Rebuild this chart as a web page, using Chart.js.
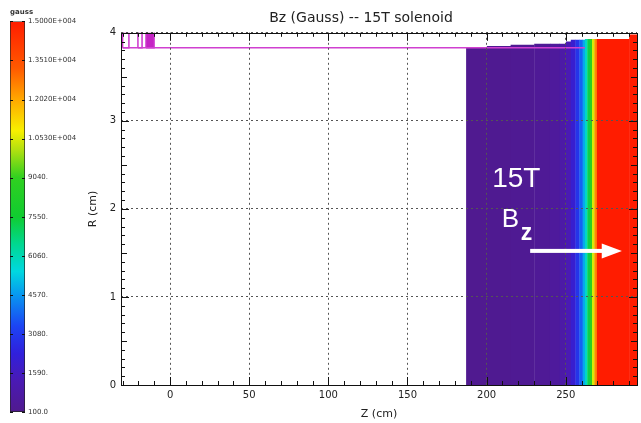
<!DOCTYPE html>
<html>
<head>
<meta charset="utf-8">
<script src="https://cdn.jsdelivr.net/npm/chart.js@4.4.0/dist/chart.umd.min.js"></script>
<style>
  html, body { margin: 0; padding: 0; background: #fff; }
  #wrap { position: relative; width: 641px; height: 423px; }
  #fieldChart, #colorBar { position: absolute; left: 0; top: 0; }
</style>
</head>
<body>
<div id="wrap">
  <canvas id="fieldChart" width="641" height="423"></canvas>
  <canvas id="colorBar" width="100" height="423"></canvas>
</div>
<script>
// Bz map columns: edges along Z (cm), field per column (gauss), top of each column in R (cm)
const zEdges = [187, 200, 215, 230, 240, 246, 250, 253, 256, 258.5, 260.5, 262, 263.5, 265, 266.5, 268, 269.5, 290, 295];
const bzValues = [150, 200, 260, 350, 550, 850, 1300, 2000, 2900, 3800, 4800, 5800, 7200, 8800, 10500, 12500, 15000, 15000];
const rTop = [3.83, 3.85, 3.865, 3.875, 3.875, 3.875, 3.9, 3.92, 3.92, 3.92, 3.92, 3.93, 3.93, 3.93, 3.93, 3.93, 3.93, 3.98];

// coil outlines near the upstream end
const coilZ = [[-30, -26], [-20.3, -17.7], [-15.2, -10.1]];
const coilFilled = [false, false, true];
const coilR = [3.83, 4.0];
const boreZ = [-30, 262];

// axis ticks
const zTicks = [0, 50, 100, 150, 200, 250];
const rTicks = [0, 1, 2, 3, 4];

// colour bar
const barTicks = [100, 1590, 3080, 4570, 6060, 7550, 9040, 10530, 12020, 13510, 15000];
const barLabels = ['100.0', '1590.', '3080.', '4570.', '6060.', '7550.', '9040.',
  '1.0530E+004', '1.2020E+004', '1.3510E+004', '1.5000E+004'];

// rainbow table, 0 = bottom of the bar, 1 = top
const cmap = [
  [0.00, '#501a8e'], [0.08, '#4a1ab4'], [0.15, '#3020dc'], [0.22, '#1c44f4'],
  [0.30, '#0898f0'], [0.36, '#00d8e0'], [0.43, '#00d890'], [0.50, '#10cc30'],
  [0.60, '#30d020'], [0.67, '#b0e010'], [0.72, '#f8f000'], [0.80, '#ffa800'],
  [0.88, '#ff5a00'], [1.00, '#ff1c00']
];

function hexRgb(h) {
  const n = parseInt(h.slice(1), 16);
  return [(n >> 16) & 255, (n >> 8) & 255, n & 255];
}

function bzColor(bz) {
  const lo = barTicks[0], hi = barTicks[barTicks.length - 1];
  const t = Math.max(0, Math.min(1, (bz - lo) / (hi - lo)));
  for (let i = 1; i < cmap.length; i++) {
    if (t <= cmap[i][0]) {
      const f = (t - cmap[i - 1][0]) / (cmap[i][0] - cmap[i - 1][0]);
      const a = hexRgb(cmap[i - 1][1]), b = hexRgb(cmap[i][1]);
      const c = a.map((v, k) => Math.round(v + (b[k] - v) * f));
      return 'rgb(' + c.join(',') + ')';
    }
  }
  return cmap[cmap.length - 1][1];
}

const FONT = '"DejaVu Sans", "Liberation Sans", sans-serif';

// field columns, later (downstream) columns drawn over the previous ones
const fieldSets = bzValues.map((bz, i) => ({
  data: [{x: zEdges[i], y: rTop[i]}, {x: Math.min(zEdges[i + 1] + 0.4, 295), y: rTop[i]}],
  fill: 'origin',
  backgroundColor: bzColor(bz),
  borderColor: 'transparent',
  borderWidth: 0,
  pointRadius: 0,
  order: -i
}));

const coilSets = coilZ.map((zz, i) => ({
  data: [{x: zz[0], y: coilR[0]}, {x: zz[0], y: coilR[1]}, {x: zz[1], y: coilR[1]},
         {x: zz[1], y: coilR[0]}, {x: zz[0], y: coilR[0]}],
  borderColor: '#cc33cc',
  borderWidth: 1.5,
  fill: false,
  pointRadius: 0,
  order: -100
}));

const coilFills = coilZ.filter((zz, i) => coilFilled[i]).map(zz => ({
  data: [{x: zz[0], y: coilR[1]}, {x: zz[1], y: coilR[1]}],
  fill: {value: coilR[0]},
  backgroundColor: '#c424c4',
  borderColor: 'transparent',
  borderWidth: 0,
  pointRadius: 0,
  order: -100
}));

const boreSet = {
  data: [{x: boreZ[0], y: coilR[0]}, {x: boreZ[1], y: coilR[0]}],
  borderColor: '#d040d0',
  borderWidth: 1.5,
  fill: false,
  pointRadius: 0,
  order: -101
};

// inward IDL-style ticks, the frame and the white labels
const framePlugin = {
  id: 'frame',
  afterDraw(chart) {
    const {ctx, chartArea: a, scales: {x, y}} = chart;
    ctx.save();

    // 15T / Bz label and arrow
    ctx.fillStyle = '#fff';
    ctx.textBaseline = 'alphabetic';
    ctx.textAlign = 'left';
    ctx.font = '28px "Liberation Sans", Arial, sans-serif';
    ctx.fillText('15T', x.getPixelForValue(203.5), y.getPixelForValue(2.25));
    ctx.font = '26px "Liberation Sans", Arial, sans-serif';
    ctx.fillText('B', x.getPixelForValue(209.5), y.getPixelForValue(1.795));
    ctx.font = 'bold 23px "Liberation Sans", Arial, sans-serif';
    ctx.fillText('z', x.getPixelForValue(221.5), y.getPixelForValue(1.65));

    const ay = y.getPixelForValue(1.523);
    const ax0 = x.getPixelForValue(227.5), ax1 = x.getPixelForValue(274), tip = x.getPixelForValue(285.5);
    ctx.fillRect(ax0, ay - 2, ax1 - ax0, 4);
    ctx.beginPath();
    ctx.moveTo(ax1 - 2, ay - 7.5);
    ctx.lineTo(tip, ay);
    ctx.lineTo(ax1 - 2, ay + 7.5);
    ctx.closePath();
    ctx.fill();

    ctx.strokeStyle = '#111';
    ctx.lineWidth = 1;
    ctx.beginPath();
    for (let z = -30; z <= 290; z += 10) {
      const px = Math.round(x.getPixelForValue(z)) + 0.5;
      const len = z % 50 === 0 ? 8 : 4;
      ctx.moveTo(px, a.bottom); ctx.lineTo(px, a.bottom - len);
      ctx.moveTo(px, a.top); ctx.lineTo(px, a.top + len);
    }
    for (let k = 0; k <= 40; k++) {
      const py = Math.round(y.getPixelForValue(k / 10)) + 0.5;
      const len = k % 10 === 0 ? 8 : (k % 5 === 0 ? 6 : 4);
      ctx.moveTo(a.left, py); ctx.lineTo(a.left + len, py);
      ctx.moveTo(a.right, py); ctx.lineTo(a.right - len, py);
    }
    ctx.stroke();
    ctx.strokeRect(Math.round(a.left) + 0.5, Math.round(a.top) + 0.5,
      Math.round(a.right - a.left), Math.round(a.bottom - a.top));
    ctx.restore();
  }
};

new Chart(document.getElementById('fieldChart'), {
  type: 'line',
  data: {datasets: [boreSet, ...coilSets, ...coilFills, ...fieldSets]},
  options: {
    responsive: false,
    animation: false,
    layout: {padding: {left: 85, right: 4, top: 0, bottom: 0}},
    plugins: {
      legend: {display: false},
      tooltip: {enabled: false},
      title: {
        display: true,
        text: 'Bz (Gauss) -- 15T solenoid',
        color: '#222',
        font: {family: FONT, size: 14, weight: 'normal'},
        padding: {top: 10, bottom: 6}
      }
    },
    scales: {
      x: {
        type: 'linear',
        min: -31,
        max: 295,
        afterBuildTicks: s => { s.ticks = zTicks.map(v => ({value: v})); },
        afterFit: s => { s.height = 38; },
        ticks: {color: '#222', font: {family: FONT, size: 10}, padding: 4},
        grid: {color: '#555', lineWidth: 1, drawTicks: false, z: 1},
        border: {display: false, dash: [2, 3]},
        title: {display: true, text: 'Z (cm)', color: '#222', font: {family: FONT, size: 11}, padding: {top: 0, bottom: 2}}
      },
      y: {
        type: 'linear',
        min: 0,
        max: 4,
        afterBuildTicks: s => { s.ticks = rTicks.map(v => ({value: v})); },
        afterFit: s => { s.width = 36; },
        ticks: {color: '#222', font: {family: FONT, size: 10}, padding: 5},
        grid: {color: '#555', lineWidth: 1, drawTicks: false, z: 1},
        border: {display: false, dash: [2, 3]},
        title: {display: true, text: 'R (cm)', color: '#222', font: {family: FONT, size: 11}, padding: 2}
      }
    }
  },
  plugins: [framePlugin]
});

// colour bar with small tick marks on both edges
const barTickPlugin = {
  id: 'barTicks',
  afterDraw(chart) {
    const {ctx, chartArea: a, scales: {y}} = chart;
    ctx.save();
    ctx.strokeStyle = '#111';
    ctx.lineWidth = 1;
    ctx.beginPath();
    barTicks.forEach(v => {
      const py = Math.round(y.getPixelForValue(v)) + 0.5;
      ctx.moveTo(a.left, py); ctx.lineTo(a.left + 3, py);
      ctx.moveTo(a.right - 3, py); ctx.lineTo(a.right, py);
    });
    ctx.stroke();
    ctx.restore();
  }
};

new Chart(document.getElementById('colorBar'), {
  type: 'bar',
  data: {
    labels: ['gauss'],
    datasets: [{
      data: [[barTicks[0], barTicks[barTicks.length - 1]]],
      backgroundColor: ctx => {
        const c = ctx.chart;
        if (!c.chartArea) return null;
        const y = c.scales.y;
        const g = c.ctx.createLinearGradient(0, y.getPixelForValue(barTicks[0]), 0,
          y.getPixelForValue(barTicks[barTicks.length - 1]));
        cmap.forEach(([t, col]) => g.addColorStop(t, col));
        return g;
      },
      borderColor: '#222',
      borderWidth: 1,
      borderSkipped: false,
      barPercentage: 1,
      categoryPercentage: 1
    }]
  },
  options: {
    responsive: false,
    animation: false,
    layout: {padding: {left: 10, right: 0, top: 6, bottom: 11}},
    plugins: {
      legend: {display: false},
      tooltip: {enabled: false},
      title: {
        display: true,
        text: 'gauss',
        align: 'start',
        color: '#333',
        font: {family: FONT, size: 7, weight: 'bold'},
        padding: {top: 2, bottom: 5}
      }
    },
    scales: {
      x: {display: false},
      y: {
        position: 'right',
        min: barTicks[0],
        max: barTicks[barTicks.length - 1],
        afterBuildTicks: s => { s.ticks = barTicks.map(v => ({value: v})); },
        afterFit: s => { s.width = 75; },
        ticks: {
          color: '#333',
          font: {family: FONT, size: 7},
          padding: 3,
          callback: (v, i) => barLabels[i]
        },
        grid: {display: false, drawTicks: false},
        border: {display: false}
      }
    }
  },
  plugins: [barTickPlugin]
});
</script>
</body>
</html>
